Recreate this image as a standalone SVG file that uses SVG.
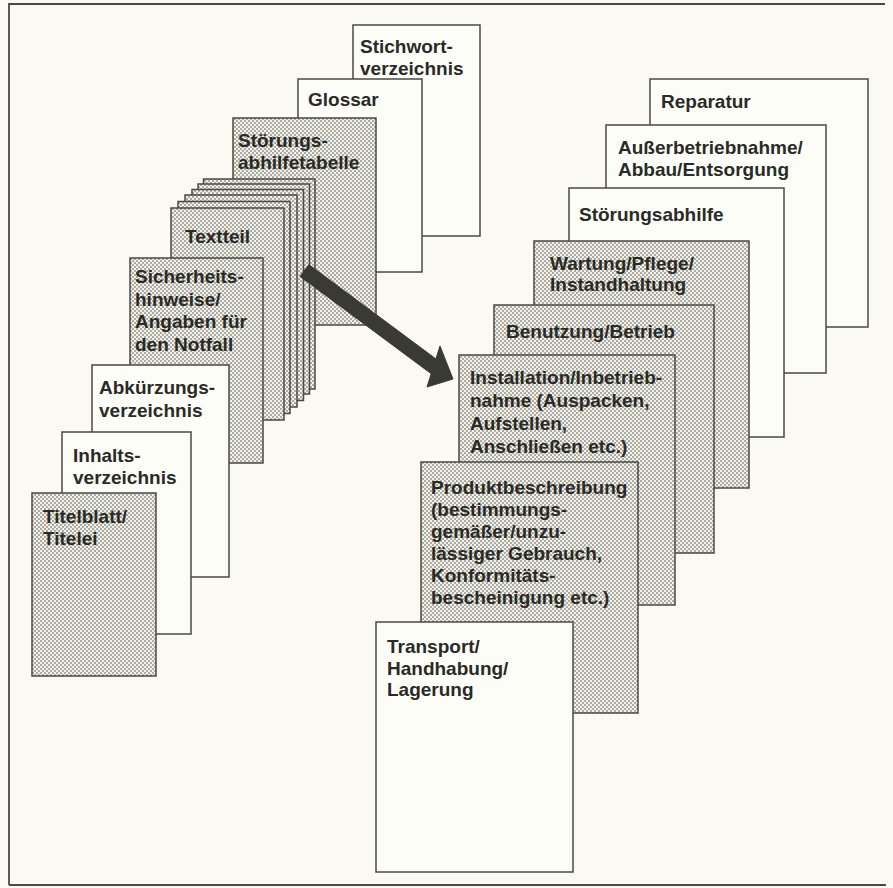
<svg xmlns="http://www.w3.org/2000/svg" width="893" height="888" viewBox="0 0 893 888">
<defs>
<pattern id="dots" width="4" height="4" patternUnits="userSpaceOnUse">
<rect width="4" height="4" fill="#f1f1e9"/>
<circle cx="1" cy="1" r="0.95" fill="#8e8e87"/>
<circle cx="3" cy="3" r="0.95" fill="#8e8e87"/>
</pattern>
<style>
.w{fill:#fdfdf8;stroke:#4a4a44;stroke-width:1.5}
.g{fill:url(#dots);stroke:#4a4a44;stroke-width:1.5}
text{font-family:"Liberation Sans",Arial,Helvetica,sans-serif;font-weight:bold;font-size:19px;fill:#2a2a26}
.frame{fill:none;stroke:#4a4a44;stroke-width:1.8}
</style>
</defs>
<rect width="893" height="888" fill="#fafaf3"/>
<path class="frame" d="M9,885 V4 H885 M9,885 H886"/>

<g id="stichwortverzeichnis"><rect class="w" x="353" y="25" width="127" height="211"/><text x="360" y="53">Stichwort-</text><text x="360" y="75">verzeichnis</text></g>
<g id="glossar"><rect class="w" x="298" y="79" width="124" height="193"/><text x="308" y="106">Glossar</text></g>
<g id="stoerungsabhilfetabelle"><rect class="g" x="233" y="118" width="143" height="207"/><text x="238" y="147">Störungs-</text><text x="238" y="169">abhilfetabelle</text></g>
<g id="textstapel">
<rect class="g" x="203.5" y="179" width="111.5" height="210"/>
<rect class="g" x="198" y="184" width="111.5" height="210"/>
<rect class="g" x="192" y="189.5" width="111.5" height="211"/>
<rect class="g" x="185" y="195" width="112" height="212"/>
<rect class="g" x="178" y="201.5" width="112" height="212"/>
</g>
<g id="textteil"><rect class="g" x="171" y="208" width="113" height="212"/><text x="185" y="243">Textteil</text></g>
<g id="sicherheitshinweise"><rect class="g" x="130" y="258" width="133" height="205"/><text x="135" y="283">Sicherheits-</text><text x="135" y="305.5">hinweise/</text><text x="135" y="328">Angaben für</text><text x="135" y="350.5">den Notfall</text></g>
<g id="abkuerzungsverzeichnis"><rect class="w" x="92" y="365" width="137" height="212"/><text x="99" y="394">Abkürzungs-</text><text x="99" y="417">verzeichnis</text></g>
<g id="inhaltsverzeichnis"><rect class="w" x="62" y="432" width="129" height="202"/><text x="73" y="462">Inhalts-</text><text x="73" y="484">verzeichnis</text></g>
<g id="titelblatt"><rect class="g" x="32" y="493" width="124" height="183"/><text x="43" y="523">Titelblatt/</text><text x="43" y="545">Titelei</text></g>

<g id="reparatur"><rect class="w" x="650" y="79" width="218" height="248"/><text x="661" y="108">Reparatur</text></g>
<g id="ausserbetriebnahme"><rect class="w" x="606" y="125" width="220" height="248"/><text x="618" y="154">Außerbetriebnahme/</text><text x="618" y="176">Abbau/Entsorgung</text></g>
<g id="stoerungsabhilfe"><rect class="w" x="569" y="188" width="215" height="249"/><text x="579" y="221">Störungsabhilfe</text></g>
<g id="wartung"><rect class="g" x="534" y="241" width="215" height="247"/><text x="550" y="270">Wartung/Pflege/</text><text x="550" y="291">Instandhaltung</text></g>
<g id="benutzung"><rect class="g" x="494" y="305" width="220" height="248"/><text x="506" y="338">Benutzung/Betrieb</text></g>
<g id="installation"><rect class="g" x="459" y="355" width="216" height="250"/><text x="470" y="384">Installation/Inbetrieb-</text><text x="470" y="407">nahme (Auspacken,</text><text x="470" y="430">Aufstellen,</text><text x="470" y="453">Anschließen etc.)</text></g>
<g id="produktbeschreibung"><rect class="g" x="421" y="462" width="217" height="251"/><text x="431" y="494">Produktbeschreibung</text><text x="431" y="516">(bestimmungs-</text><text x="431" y="538">gemäßer/unzu-</text><text x="431" y="560">lässiger Gebrauch,</text><text x="431" y="582">Konformitäts-</text><text x="431" y="604">bescheinigung etc.)</text></g>
<g id="transport"><rect class="w" x="376" y="622" width="197" height="250"/><text x="387" y="653">Transport/</text><text x="387" y="674.5">Handhabung/</text><text x="387" y="696">Lagerung</text></g>

<g id="connectors">
<polygon points="308.9,264.6 435.9,358.9 440,346 453,379 427,387 431.2,373.7 300.1,276.4" fill="#3a3a35" stroke="#3a3a35" stroke-width="1" stroke-linejoin="miter"/>
</g>
</svg>
